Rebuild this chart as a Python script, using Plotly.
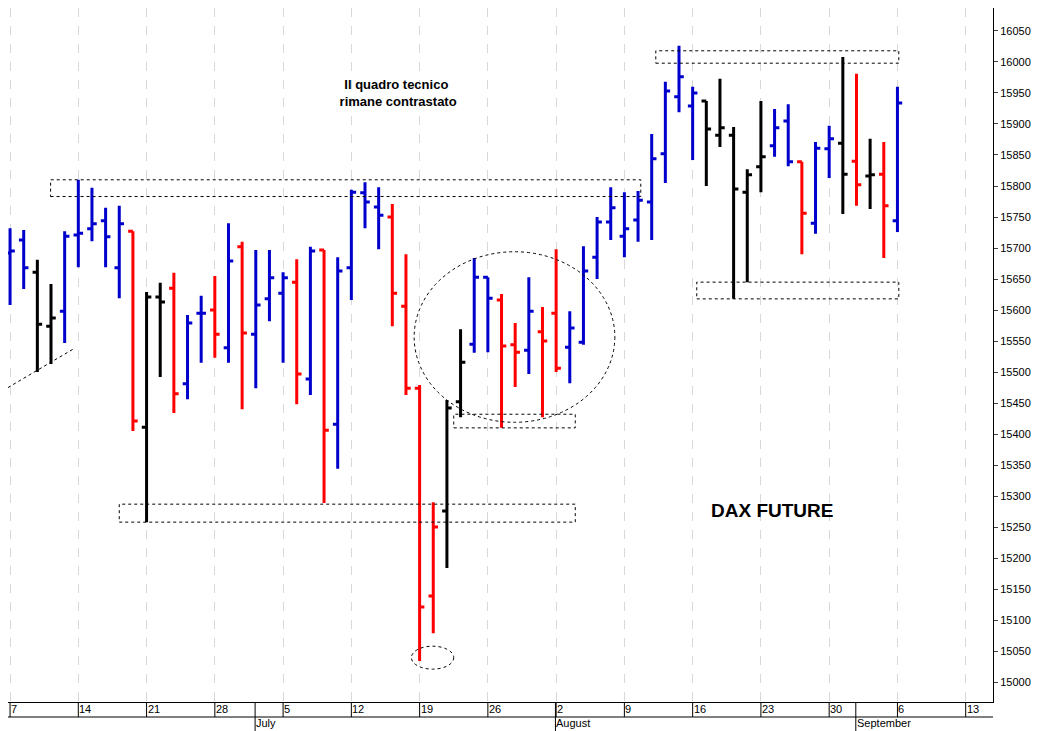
import plotly.graph_objects as go

# trading days from Mon 7 Jun 2021 to Mon 6 Sep 2021 (index 0..65)
opens = [15692, 15713, 15661, 15574, 15598, 15721, 15731, 15744, 15668, 15727,
         15411, 15621, 15635, 15481, 15595, 15600, 15539, 15702, 15561, 15618,
         15627, 15645, 15489, 15697, 15416, 15668, 15789, 15766, 15750, 15606,
         15474, 15139, 15276, 15452, 15545, 15653, 15616, 15544, 15535, 15565,
         15595, 15540, 15548, 15685, 15742, 15719, 15745, 15774, 15852, 15944,
         15929, 15937, 15882, 15882, 15790, 15831, 15865, 15905, 15839, 15740,
         15860, 15869, 15840, 15816, 15819, 15744]
highs = [15732, 15729, 15681, 15642, 15727, 15810, 15797, 15765, 15768, 15727,
         15629, 15644, 15660, 15592, 15623, 15655, 15740, 15710, 15697, 15697,
         15661, 15682, 15702, 15697, 15685, 15794, 15806, 15798, 15771, 15690,
         15479, 15290, 15455, 15569, 15684, 15653, 15626, 15579, 15653, 15605,
         15698, 15598, 15703, 15750, 15798, 15790, 15792, 15884, 15968, 16026,
         15960, 15937, 15973, 15895, 15827, 15937, 15924, 15932, 15839, 15871,
         15897, 16008, 15981, 15876, 15871, 15960]
lows = [15608, 15634, 15500, 15513, 15547, 15669, 15711, 15669, 15619, 15405,
        15258, 15492, 15434, 15456, 15515, 15523, 15515, 15440, 15474, 15582,
        15515, 15448, 15463, 15289, 15344, 15616, 15732, 15698, 15574, 15463,
        15034, 15079, 15184, 15427, 15531, 15532, 15410, 15476, 15497, 15427,
        15500, 15482, 15544, 15650, 15713, 15685, 15710, 15713, 15805, 15919,
        15842, 15800, 15863, 15618, 15645, 15790, 15847, 15832, 15690, 15723,
        15813, 15755, 15768, 15763, 15684, 15726]
closes = [15695, 15668, 15577, 15587, 15719, 15724, 15739, 15718, 15739, 15421,
          15621, 15613, 15465, 15579, 15595, 15561, 15679, 15563, 15608, 15652,
          15652, 15497, 15695, 15406, 15663, 15790, 15774, 15753, 15627, 15474,
          15121, 15250, 15442, 15516, 15653, 15619, 15542, 15532, 15598, 15550,
          15506, 15571, 15663, 15742, 15765, 15731, 15777, 15844, 15953, 15976,
          15950, 15892, 15894, 15795, 15818, 15847, 15894, 15839, 15756, 15861,
          15876, 15819, 15802, 15818, 15768, 15934]
colors = list("bbkkbbbbbrkkrbbrbrbbbrbrbbbbrrrrkkbbrrbrrbbbbbbbbbbkkkkkbbrbbkrkrb")

week_labels = ["7", "14", "21", "28", "5", "12", "19", "26", "2", "9", "16", "23", "30", "6", "13"]
month_labels = ["July", "August", "September"]
month_start_idx = [18, 40, 62]  # first trading day of each month

palette = {"b": "#0000cc", "r": "#ff0000", "k": "#000000"}

fig = go.Figure()
for key, col in palette.items():
    idx = [i for i, c in enumerate(colors) if c == key]
    fig.add_trace(go.Ohlc(
        x=idx,
        open=[opens[i] for i in idx], high=[highs[i] for i in idx],
        low=[lows[i] for i in idx], close=[closes[i] for i in idx],
        increasing=dict(line=dict(color=col, width=3)),
        decreasing=dict(line=dict(color=col, width=3)),
        tickwidth=0.35, showlegend=False, hoverinfo="skip",
    ))

dash = dict(color="black", width=1, dash="dot")
rects = [(2.97, 46.2, 15783, 15810), (8.0, 41.4, 15258, 15287),
         (32.5, 41.4, 15410, 15432), (47.3, 65.1, 15998, 16018),
         (50.3, 65.1, 15618, 15645)]
for x0, x1, y0, y1 in rects:
    fig.add_shape(type="rect", x0=x0, x1=x1, y0=y0, y1=y1, line=dash)
fig.add_shape(type="circle", x0=29.6, x1=44.3, y0=15419, y1=15694, line=dash)
fig.add_shape(type="circle", x0=29.4, x1=32.5, y0=15021, y1=15058, line=dash)
fig.add_shape(type="line", x0=-0.15, x1=4.7, y0=15475, y1=15538, line=dash)

fig.add_annotation(x=28.3, y=15950, text="<b>Il quadro tecnico<br> rimane contrastato</b>",
                   showarrow=False, font=dict(family="Liberation Sans Narrow, Arial", size=13, color="black"))
fig.add_annotation(x=55.8, y=15277, text="<b>DAX FUTURE</b>", showarrow=False,
                   font=dict(family="Liberation Sans, Arial", size=19, color="black"))

# date box under the plot: row of week days, row of months
plot_h = 694
r1 = -15 / plot_h
r2 = -29 / plot_h
box = dict(color="black", width=1)
fig.add_shape(type="line", xref="paper", yref="paper", x0=0, x1=1, y0=r1, y1=r1, line=box)
for w, lab in enumerate(week_labels):
    fig.add_shape(type="line", yref="paper", x0=w * 5, x1=w * 5, y0=0, y1=r1, line=box)
    fig.add_annotation(x=w * 5, y=0, yref="paper", yanchor="top", xanchor="left", yshift=1, xshift=-1,
                       text=lab, showarrow=False, font=dict(size=11, color="black"))
for name, m in zip(month_labels, month_start_idx):
    fig.add_shape(type="line", yref="paper", x0=m - 0.05, x1=m - 0.05, y0=0, y1=r2, line=box)
    fig.add_annotation(x=m - 0.05, y=r1, yref="paper", yanchor="top", xanchor="left", yshift=2, xshift=-1,
                       text=name, showarrow=False, font=dict(size=11, color="black"))

fig.update_xaxes(range=[-0.15, 72.0], tickvals=[w * 5 for w in range(len(week_labels))],
                 showticklabels=False, showgrid=True, gridcolor="#d8d8d8", griddash="dash",
                 rangeslider=dict(visible=False), showline=True, linecolor="black",
                 ticks="", zeroline=False, automargin=False)
fig.update_yaxes(range=[14968, 16087], side="right", dtick=50, tickformat="d", showgrid=False,
                 showline=True, linecolor="black", ticks="outside", ticklen=4,
                 tickfont=dict(size=11, color="black"), zeroline=False, automargin=False)
fig.update_layout(width=1034, height=723, margin=dict(l=0, r=49, t=0, b=29),
                  plot_bgcolor="white", paper_bgcolor="white",
                  font=dict(family="Liberation Sans, Arial"))
fig.write_html("out.html")
